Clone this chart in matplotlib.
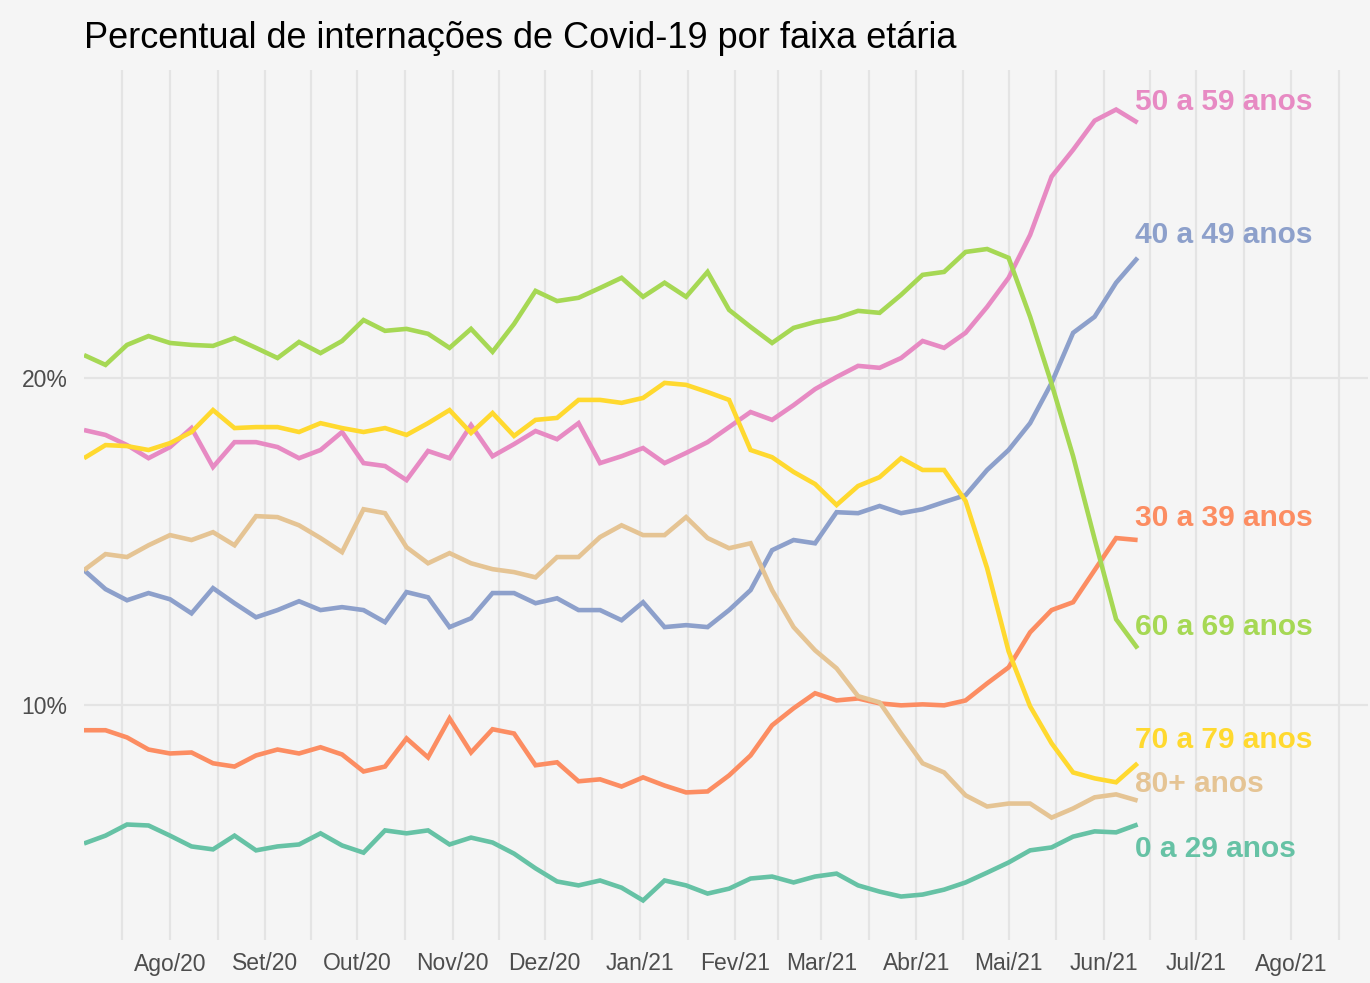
import matplotlib.pyplot as plt
import matplotlib.dates as mdates
import numpy as np
import pandas as pd

# =========================
# DATA (% of hospitalisations, weekly)
# =========================
weeks = pd.date_range("2020-07-04", periods=50, freq="7D")

age_0_29 = [5.78, 6.02, 6.36, 6.33, 6.02, 5.69, 5.60, 6.02, 5.57, 5.69,
            5.75, 6.09, 5.72, 5.50, 6.18, 6.09, 6.18, 5.75, 5.96, 5.81,
            5.47, 5.02, 4.62, 4.50, 4.65, 4.43, 4.04, 4.65, 4.50, 4.25,
            4.40, 4.71, 4.77, 4.59, 4.77, 4.86, 4.50, 4.31, 4.16, 4.22,
            4.37, 4.59, 4.89, 5.20, 5.57, 5.66, 5.99, 6.15, 6.12, 6.36]
age_30_39 = [9.24, 9.24, 9.02, 8.65, 8.53, 8.56, 8.23, 8.13, 8.47, 8.65,
             8.53, 8.72, 8.50, 7.98, 8.13, 8.99, 8.41, 9.60, 8.56, 9.27,
             9.14, 8.17, 8.26, 7.68, 7.74, 7.52, 7.80, 7.55, 7.34, 7.37,
             7.86, 8.47, 9.39, 9.91, 10.37, 10.15, 10.21, 10.06, 10.00, 10.03,
             10.00, 10.15, 10.67, 11.16, 12.23, 12.91, 13.15, 14.13, 15.11, 15.05]
age_40_49 = [14.13, 13.55, 13.21, 13.43, 13.24, 12.81, 13.58, 13.12, 12.69, 12.91,
             13.18, 12.91, 13.00, 12.91, 12.54, 13.46, 13.30, 12.39, 12.66, 13.43,
             13.43, 13.12, 13.27, 12.91, 12.91, 12.60, 13.15, 12.39, 12.45, 12.39,
             12.91, 13.52, 14.74, 15.05, 14.95, 15.90, 15.87, 16.09, 15.87, 15.99,
             16.21, 16.42, 17.19, 17.80, 18.62, 19.85, 21.38, 21.87, 22.91, 23.67]
age_50_59 = [18.41, 18.26, 17.95, 17.55, 17.89, 18.47, 17.28, 18.04, 18.04, 17.89,
             17.55, 17.80, 18.35, 17.40, 17.31, 16.88, 17.77, 17.55, 18.56, 17.61,
             17.98, 18.38, 18.13, 18.62, 17.40, 17.61, 17.86, 17.40, 17.71, 18.04,
             18.50, 18.96, 18.72, 19.17, 19.66, 20.03, 20.37, 20.31, 20.61, 21.13,
             20.92, 21.38, 22.17, 23.06, 24.37, 26.15, 26.97, 27.86, 28.20, 27.80]
age_60_69 = [20.70, 20.40, 21.01, 21.28, 21.07, 21.01, 20.98, 21.22, 20.92, 20.61,
             21.10, 20.76, 21.13, 21.77, 21.44, 21.50, 21.35, 20.92, 21.50, 20.80,
             21.65, 22.66, 22.35, 22.45, 22.75, 23.06, 22.48, 22.91, 22.48, 23.24,
             22.08, 21.56, 21.07, 21.53, 21.71, 21.83, 22.05, 21.99, 22.54, 23.15,
             23.24, 23.85, 23.94, 23.67, 21.87, 19.82, 17.61, 15.08, 12.63, 11.74]
age_70_79 = [17.55, 17.95, 17.92, 17.80, 18.01, 18.35, 19.02, 18.47, 18.50, 18.50,
             18.35, 18.62, 18.47, 18.35, 18.47, 18.26, 18.62, 19.02, 18.32, 18.93,
             18.23, 18.72, 18.78, 19.33, 19.33, 19.24, 19.39, 19.85, 19.79, 19.57,
             19.33, 17.80, 17.58, 17.13, 16.76, 16.12, 16.70, 16.97, 17.55, 17.19,
             17.19, 16.24, 14.19, 11.65, 9.97, 8.84, 7.95, 7.77, 7.65, 8.23]
age_80 = [14.13, 14.62, 14.53, 14.89, 15.20, 15.05, 15.29, 14.89, 15.78, 15.75,
          15.50, 15.11, 14.68, 15.99, 15.87, 14.83, 14.34, 14.65, 14.34, 14.16,
          14.07, 13.91, 14.53, 14.53, 15.14, 15.50, 15.20, 15.20, 15.75, 15.11,
          14.80, 14.95, 13.52, 12.39, 11.68, 11.13, 10.28, 10.09, 9.14, 8.23,
          7.95, 7.25, 6.91, 7.00, 7.00, 6.57, 6.85, 7.19, 7.28, 7.09]

group_names = ["0 a 29 anos", "30 a 39 anos", "40 a 49 anos", "50 a 59 anos",
               "60 a 69 anos", "70 a 79 anos", "80+ anos"]
group_colors = ["#66c2a5", "#fc8d62", "#8da0cb", "#e78ac3",
                "#a6d854", "#ffd92f", "#e5c494"]
# repelled label heights (in %)
label_y = [5.60, 15.72, 24.37, 28.44, 12.39, 8.93, 7.61]

series = [age_0_29, age_30_39, age_40_49, age_50_59, age_60_69, age_70_79, age_80]

month_labels = ["Ago/20", "Set/20", "Out/20", "Nov/20", "Dez/20", "Jan/21", "Fev/21",
                "Mar/21", "Abr/21", "Mai/21", "Jun/21", "Jul/21", "Ago/21"]
month_starts = pd.date_range("2020-08-01", periods=13, freq="MS")

# =========================
# FIGURE
# =========================
BG = "#f5f5f5"
GRID = "#e4e4e4"
plt.rcParams["font.family"] = ["Liberation Sans", "DejaVu Sans"]

fig = plt.figure(figsize=(13.7, 9.83), dpi=100, facecolor=BG)
ax = fig.add_axes([84 / 1370, 43 / 983, 1284 / 1370, 870 / 983])
ax.set_facecolor(BG)

for vals, col in zip(series, group_colors):
    ax.plot(weeks, vals, color=col, lw=3.3, solid_joinstyle="miter",
            solid_capstyle="butt", zorder=3)

for name, col, ly in zip(group_names, group_colors, label_y):
    ax.text(weeks[-1] - pd.Timedelta(days=1), ly, name, color=col, fontsize=21.5,
            fontweight="bold", ha="left", va="center", zorder=4)

# limits (ggplot-like 5% expansion on y)
all_vals = np.concatenate([np.array(s) for s in series])
lo, hi = all_vals.min(), all_vals.max()
pad = 0.05 * (hi - lo)
ax.set_ylim(lo - pad, hi + pad)
ax.set_xlim(weeks[0], pd.Timestamp("2021-08-26"))

# grid
ax.set_yticks([10, 20])
ax.set_yticklabels(["10%", "20%"])
ax.set_xticks(month_starts)
ax.set_xticklabels(month_labels)
edges = pd.date_range("2020-07-01", periods=15, freq="MS")
minor = [edges[i] + (edges[i + 1] - edges[i]) / 2 for i in range(len(edges) - 1)]
ax.set_xticks(minor, minor=True)
ax.grid(True, which="major", color=GRID, lw=1.6, zorder=0)
ax.grid(True, which="minor", axis="x", color=GRID, lw=1.6, zorder=0)
ax.set_axisbelow(True)

ax.tick_params(which="both", length=0)
ax.tick_params(axis="x", pad=9, labelsize=16.5, labelcolor="#4d4d4d")
ax.tick_params(axis="y", pad=12, labelsize=16.5, labelcolor="#4d4d4d")
for s in ax.spines.values():
    s.set_visible(False)

fig.text(84 / 1370, 1 - 38 / 983, "Percentual de internações de Covid-19 por faixa etária",
         fontsize=26, color="black", ha="left", va="center")

fig.savefig("out.png", dpi=100, facecolor=BG)
